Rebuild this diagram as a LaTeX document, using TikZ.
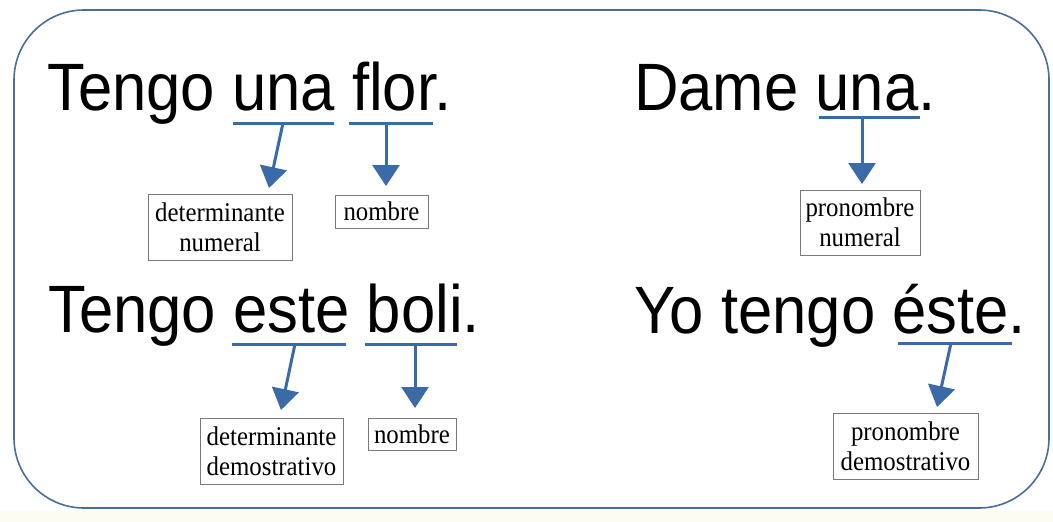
\documentclass[tikz,border=0pt]{standalone}
\usepackage{fontspec}
\usepackage{graphicx}
\usetikzlibrary{arrows.meta}
\newfontfamily\sansbig{Liberation Sans}
\newfontfamily\serifbox{Liberation Serif}
\definecolor{frameblue}{HTML}{4A6E9C}
\definecolor{arrowblue}{HTML}{3A6BA8}
\definecolor{boxgray}{HTML}{7A7A7A}
\definecolor{stripcol}{HTML}{FDFCF3}
\newcommand{\hsq}[1]{\scalebox{0.92}[1]{#1}}
\tikzset{
  sentence/.style={anchor=base west, inner sep=0pt, font=\sansbig\fontsize{67}{70}\selectfont},
  labelbox/.style={draw=boxgray, line width=0.8pt, inner sep=0pt, align=center,
     font=\serifbox\fontsize{27}{30}\selectfont},
  uline/.style={draw=arrowblue, line width=3pt},
  pointer/.style={draw=arrowblue, line width=3pt, -{Triangle[width=27pt,length=21pt]}}
}
\begin{document}
\begin{tikzpicture}[x=1pt,y=-1pt]
\useasboundingbox (0,0) rectangle (1053,522);
\fill[white] (0,0) rectangle (1053,522);
\fill[stripcol] (0,511) rectangle (1053,522);
\draw[frameblue, line width=1.6pt, rounded corners=70pt] (14,10) rectangle (1049,508);

% sentences
\node[sentence] (s1) at (47,110) {\hsq{Tengo una flor.}};
\node[sentence] (s2) at (634,110) {\hsq{Dame una.}};
\node[sentence] (s3) at (48,332) {\hsq{Tengo este boli.}};
\node[sentence] (s4) at (634,333) {\hsq{Yo tengo éste.}};

% boxes
\node[labelbox, minimum width=144pt, minimum height=66pt] (b1) at (220,227) {\hsq{determinante}\\\hsq{numeral}};
\node[labelbox, minimum width=93pt, minimum height=33pt] (b2) at (381.5,211.5) {\hsq{nombre}};
\node[labelbox, minimum width=120pt, minimum height=65pt] (b3) at (860,222.5) {\hsq{pronombre}\\\hsq{numeral}};
\node[labelbox, minimum width=143pt, minimum height=66pt] (b4) at (271.5,451) {\hsq{determinante}\\\hsq{demostrativo}};
\node[labelbox, minimum width=88pt, minimum height=32pt] (b5) at (412,434) {\hsq{nombre}};
\node[labelbox, minimum width=145pt, minimum height=66pt] (b6) at (905.5,446) {\hsq{pronombre}\\\hsq{demostrativo}};

% underlines
\coordinate (u1a) at (233,123); \coordinate (u1b) at (334,123);
\coordinate (u2a) at (349,123); \coordinate (u2b) at (433,123);
\coordinate (u3a) at (819,117); \coordinate (u3b) at (920,117);
\coordinate (u4a) at (232,344); \coordinate (u4b) at (346,344);
\coordinate (u5a) at (365,344); \coordinate (u5b) at (457,344);
\coordinate (u6a) at (898,343); \coordinate (u6b) at (1012,343);
\draw[uline] (u1a) -- (u1b);
\draw[uline] (u2a) -- (u2b);
\draw[uline] (u3a) -- (u3b);
\draw[uline] (u4a) -- (u4b);
\draw[uline] (u5a) -- (u5b);
\draw[uline] (u6a) -- (u6b);

% arrows
\coordinate (p1) at (283,123); \coordinate (t1) at (269,188);
\coordinate (p2) at (386,123); \coordinate (t2) at (386,186);
\coordinate (p3) at (862,117); \coordinate (t3) at (862,184);
\coordinate (p4) at (295,344); \coordinate (t4) at (281,410);
\coordinate (p5) at (415,344); \coordinate (t5) at (415,408);
\coordinate (p6) at (951,343); \coordinate (t6) at (937,407);
\draw[pointer] (p1) -- (t1);
\draw[pointer] (p2) -- (t2);
\draw[pointer] (p3) -- (t3);
\draw[pointer] (p4) -- (t4);
\draw[pointer] (p5) -- (t5);
\draw[pointer] (p6) -- (t6);
\end{tikzpicture}
\end{document}
